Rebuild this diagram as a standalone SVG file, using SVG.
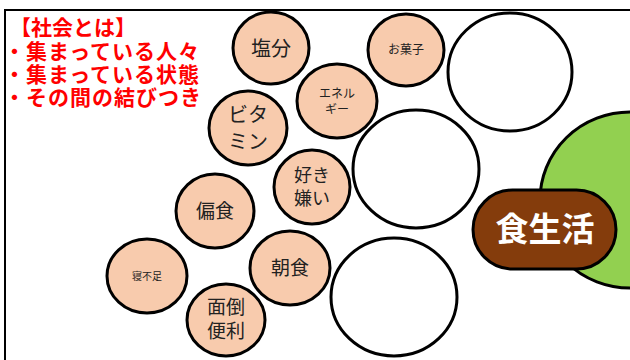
<svg xmlns="http://www.w3.org/2000/svg" width="630" height="360" viewBox="0 0 630 360">
<style>
.f{fill:#f8cbad;stroke:#000;stroke-width:3}
.w{fill:#fff;stroke:#000;stroke-width:3}
.t{font-family:"Noto Sans CJK JP","Noto Sans CJK SC",sans-serif;fill:#222;text-anchor:middle}
.r{font-family:"Noto Sans CJK JP","Noto Sans CJK SC",sans-serif;fill:#ff0000;font-weight:bold;font-size:21px}
</style>
<rect width="630" height="360" fill="#fff"/>
<path d="M5,360 V10 H630" fill="none" stroke="#000" stroke-width="2"/>
<g id="title">
<text class="r" x="10" y="35">【社会とは】</text>
<text class="r" x="4" y="59" letter-spacing="1">・集まっている人々</text>
<text class="r" x="4" y="82" letter-spacing="1">・集まっている状態</text>
<text class="r" x="4" y="105" letter-spacing="1">・その間の結びつき</text>
</g>
<g id="green"><ellipse cx="630" cy="200" rx="90" ry="88" fill="#92d050" stroke="#000" stroke-width="3"/></g>
<g id="c-top"><ellipse class="w" cx="510" cy="72" rx="62" ry="59"/></g>
<g id="c-mid"><ellipse class="w" cx="416" cy="169" rx="63" ry="59"/></g>
<g id="c-bot"><ellipse class="w" cx="394" cy="297" rx="63" ry="59"/></g>
<g id="shokuseikatsu">
<rect x="473" y="190" width="143" height="79" rx="39.5" fill="#843c0c" stroke="#000" stroke-width="3"/>
<text class="t" x="545" y="241" font-size="33" font-weight="bold" style="fill:#fff">食生活</text>
</g>
<g id="enbun"><ellipse class="f" cx="271" cy="48" rx="38" ry="36"/><text class="t" x="271" y="56" font-size="20">塩分</text></g>
<g id="okashi"><ellipse class="f" cx="406" cy="50" rx="38" ry="36"/><text class="t" x="406" y="54" font-size="12">お菓子</text></g>
<g id="energy"><ellipse class="f" cx="337" cy="101" rx="40" ry="37"/><text class="t" x="337" y="98" font-size="12">エネル</text><text class="t" x="337" y="114" font-size="12">ギー</text></g>
<g id="vitamin"><ellipse class="f" cx="248" cy="128" rx="39" ry="37"/><text class="t" x="248" y="122" font-size="20">ビタ</text><text class="t" x="248" y="149" font-size="20">ミン</text></g>
<g id="sukikirai"><ellipse class="f" cx="312" cy="187" rx="38" ry="37"/><text class="t" x="312" y="182" font-size="18">好き</text><text class="t" x="312" y="205" font-size="18">嫌い</text></g>
<g id="henshoku"><ellipse class="f" cx="215" cy="211" rx="39" ry="37"/><text class="t" x="215" y="218" font-size="19">偏食</text></g>
<g id="nebusoku"><ellipse class="f" cx="147" cy="276" rx="40" ry="37"/><text class="t" x="147" y="280" font-size="10">寝不足</text></g>
<g id="choshoku"><ellipse class="f" cx="290" cy="268" rx="40" ry="37"/><text class="t" x="290" y="275" font-size="19">朝食</text></g>
<g id="mendo"><ellipse class="f" cx="226" cy="320" rx="39" ry="36"/><text class="t" x="226" y="314" font-size="19">面倒</text><text class="t" x="226" y="338" font-size="19">便利</text></g>
<g id="connectors"></g>
</svg>
